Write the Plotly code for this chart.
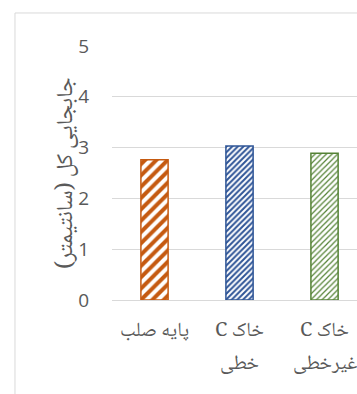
import plotly.graph_objects as go

categories_line1 = ["پایه صلب", "C خاک", "C خاک"]
categories_line2 = ["", "خطی", "غیرخطی"]
values = [2.76, 3.03, 2.89]
colors = ["#C55A11", "#2F5597", "#548235"]
pattern_sizes = [8, 4, 4]
pattern_solidity = [0.5, 0.5, 0.3]
y_ticks = [0, 1, 2, 3, 4, 5]
y_title = "\u200fجابجایی کل (سانتیمتر)\u200f"

arabic_font = "Noto Naskh Arabic, Noto Sans Arabic, DejaVu Sans, sans-serif"

fig = go.Figure()
for i, v in enumerate(values):
    fig.add_trace(go.Bar(
        x=[i], y=[v], width=0.32,
        marker=dict(
            color="white",
            line=dict(color=colors[i], width=1.5),
            pattern=dict(shape="/", fgcolor=colors[i], bgcolor="white",
                         size=pattern_sizes[i], solidity=pattern_solidity[i],
                         fillmode="replace"),
        ),
        showlegend=False,
    ))

fig.update_layout(
    width=357, height=394,
    margin=dict(l=112, r=0, t=46, b=94),
    plot_bgcolor="white", paper_bgcolor="white",
    font=dict(family="Open Sans, DejaVu Sans, sans-serif", color="#595959"),
    xaxis=dict(
        range=[-0.5, 2.382], tickmode="array",
        tickvals=list(range(len(categories_line1))), ticktext=categories_line1,
        showgrid=False, zeroline=False, showline=False, ticks="",
        ticklabelstandoff=15, ticklabeloverflow="allow",
        tickfont=dict(size=20, color="#595959", family=arabic_font),
    ),
    yaxis=dict(
        range=[0, 5], tickvals=y_ticks, showgrid=True, gridcolor="#D9D9D9",
        gridwidth=1, zeroline=True, zerolinecolor="#D9D9D9", zerolinewidth=1,
        showline=False, ticks="", ticklabelstandoff=22,
        tickfont=dict(size=19, color="#595959"),
    ),
    bargap=0.6,
)

for i, t in enumerate(categories_line2):
    if t:
        fig.add_annotation(
            text=t, x=i, xref="x", y=-0.254, yref="paper",
            yanchor="middle", showarrow=False,
            font=dict(size=20, color="#595959", family=arabic_font),
        )

fig.add_annotation(
    text=y_title, textangle=-90, xref="paper", yref="paper",
    x=-0.273, y=0.50, showarrow=False,
    font=dict(size=23, color="#595959", family=arabic_font),
)

fig.add_shape(
    type="rect", xref="paper", yref="paper",
    x0=-0.396, x1=1.5, y0=-0.5, y1=1.13,
    line=dict(color="#D9D9D9", width=1), fillcolor="rgba(0,0,0,0)",
    layer="below",
)

fig.write_html("out.html")
